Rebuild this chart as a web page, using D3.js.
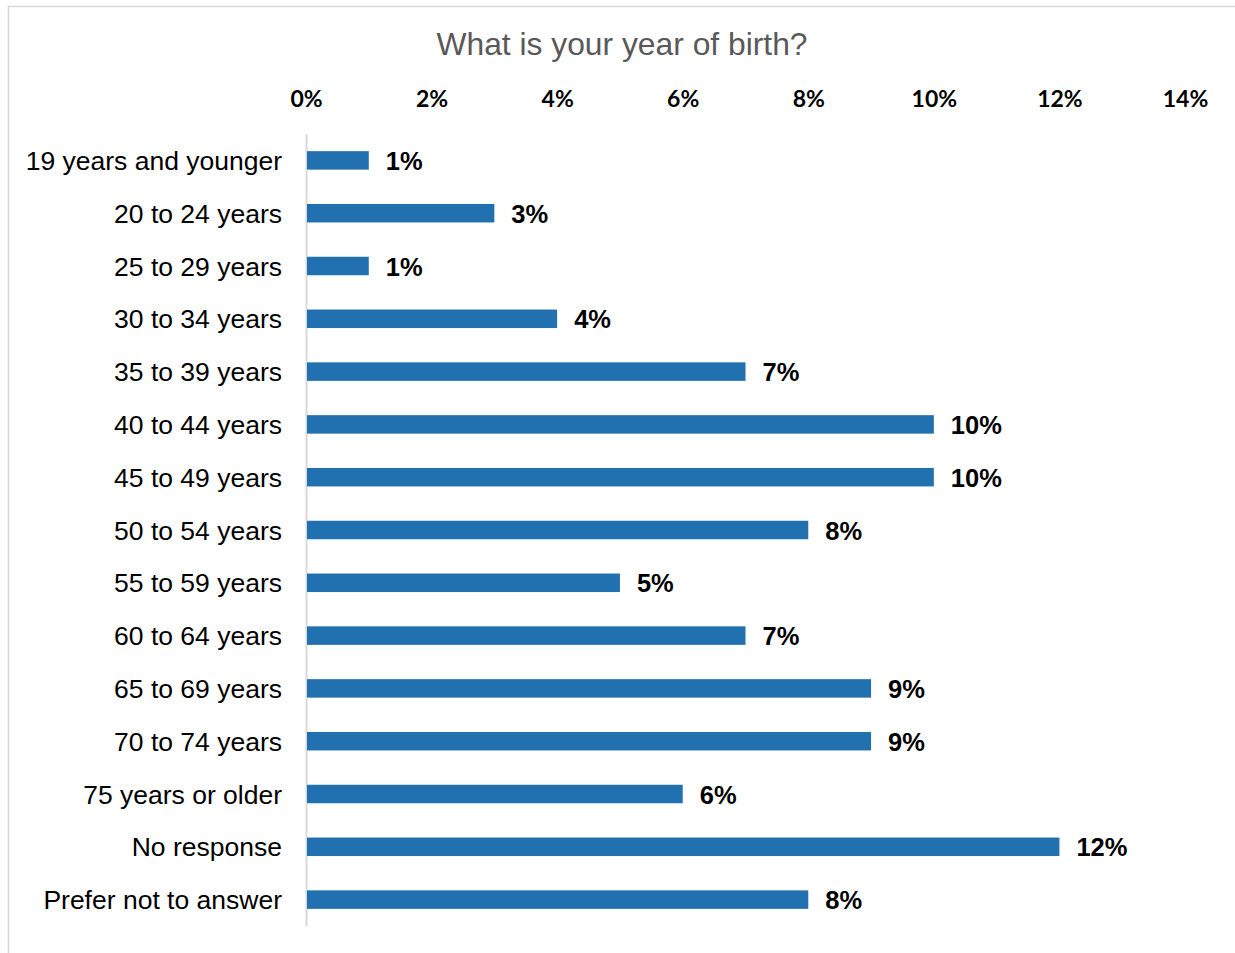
<!DOCTYPE html>
<html>
<head>
<meta charset="utf-8">
<script src="https://cdn.jsdelivr.net/npm/d3@7"></script>
<style>
  html, body { margin: 0; padding: 0; background: #fff; }
  svg { display: block; }
</style>
</head>
<body>
<svg id="chart" width="1235" height="953"></svg>
<script>
// Age groups and share of respondents (%)
const categories = [
  "19 years and younger", "20 to 24 years", "25 to 29 years", "30 to 34 years",
  "35 to 39 years", "40 to 44 years", "45 to 49 years", "50 to 54 years",
  "55 to 59 years", "60 to 64 years", "65 to 69 years", "70 to 74 years",
  "75 years or older", "No response", "Prefer not to answer"
];
const values = [1, 3, 1, 4, 7, 10, 10, 8, 5, 7, 9, 9, 6, 12, 8];
const tickValues = [0, 2, 4, 6, 8, 10, 12, 14];
const title = "What is your year of birth?";

const svg = d3.select("#chart");

// Outer chart frame
svg.append("rect")
  .attr("x", 8.5).attr("y", 6.5)
  .attr("width", 1300).attr("height", 1000)
  .attr("fill", "none").attr("stroke", "#d9d9d9").attr("stroke-width", 1.5);

const x = d3.scaleLinear().domain([0, 14]).range([306, 1185]);
const y = d3.scaleBand().domain(categories).range([134, 926]).paddingInner(0.65).paddingOuter(0.325);

// Title
svg.append("text")
  .attr("x", 622).attr("y", 55)
  .attr("text-anchor", "middle")
  .attr("font-family", "Liberation Sans, Arial, sans-serif")
  .attr("font-size", 31.8)
  .attr("fill", "#595959")
  .text(title);

// Top percentage axis (labels only)
const xAxis = d3.axisTop(x).tickValues(tickValues).tickSize(0).tickPadding(0)
  .tickFormat(d => d + "%");
const gx = svg.append("g").attr("transform", "translate(0,107)").call(xAxis);
gx.select(".domain").remove();
gx.selectAll("text")
  .attr("font-family", "Lato, 'Open Sans', sans-serif")
  .attr("font-weight", "bold")
  .attr("font-size", 23)
  .attr("dy", 0)
  .attr("fill", "#000");

// Category axis on the left
const yAxis = d3.axisLeft(y).tickSize(0).tickPadding(24);
const gy = svg.append("g").attr("transform", "translate(306,0)").call(yAxis);
gy.select(".domain").attr("stroke", "#d9d9d9").attr("stroke-width", 2);
gy.selectAll("text")
  .attr("font-family", "Liberation Sans, Arial, sans-serif")
  .attr("font-size", 26.5)
  .attr("dy", "0.36em")
  .attr("fill", "#000");

// Bars
svg.append("g").selectAll("rect")
  .data(categories)
  .join("rect")
  .attr("x", x(0) + 1)
  .attr("y", d => y(d))
  .attr("width", (d, i) => x(values[i]) - x(0) - 1)
  .attr("height", y.bandwidth())
  .attr("fill", "#2171b0");

// Value labels
svg.append("g").selectAll("text")
  .data(categories)
  .join("text")
  .attr("x", (d, i) => x(values[i]) + 17)
  .attr("y", d => y(d) + y.bandwidth() / 2)
  .attr("dy", "0.38em")
  .attr("font-family", "Liberation Sans, Arial, sans-serif")
  .attr("font-weight", "bold")
  .attr("font-size", 25.5)
  .attr("fill", "#000")
  .text((d, i) => values[i] + "%");
</script>
</body>
</html>
